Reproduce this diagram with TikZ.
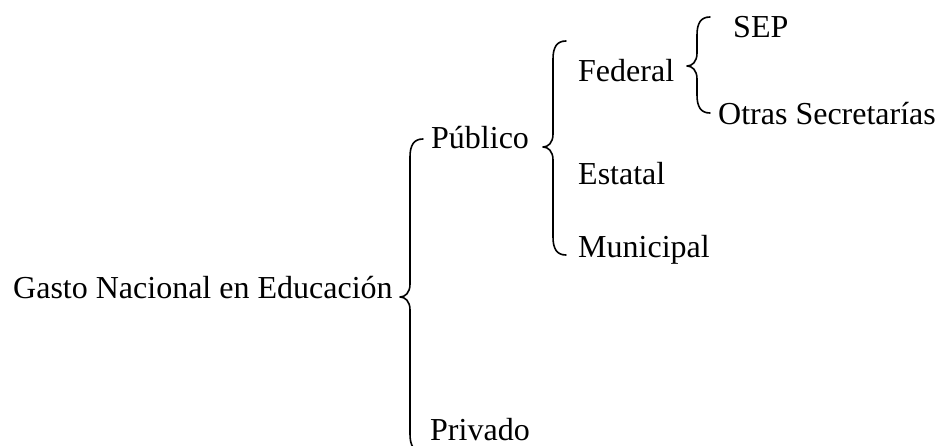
\documentclass[tikz,border=0pt]{standalone}
\usepackage{fontspec}
\setmainfont{Liberation Serif}
\newcommand\mybrace[4]{%
  \draw[bracestyle] ({#1+13},{#2}) .. controls ({#1+4},{#2}) and ({#1},{#2+6}) .. ({#1},{#2+18})
    -- ({#1},{#3-13}) .. controls ({#1},{#3-4}) and ({#1-5},{#3}) .. ({#1-10},{#3})
    .. controls ({#1-5},{#3}) and ({#1},{#3+4}) .. ({#1},{#3+13})
    -- ({#1},{#4-18}) .. controls ({#1},{#4-6}) and ({#1+4},{#4}) .. ({#1+13},{#4});}
\tikzset{
  lbl/.style={anchor=base west, inner sep=0pt, font=\fontsize{32}{38}\selectfont},
  bracestyle/.style={line width=1.6pt, line cap=round, line join=round}
}
\begin{document}
\begin{tikzpicture}[x=1pt,y=-1pt]
\useasboundingbox (0,0) rectangle (945,446);
\clip (0,0) rectangle (945,446);
\node[lbl] (gasto) at (13,299) {Gasto Nacional en Educación};
\node[lbl] (publico) at (431,149) {Público};
\node[lbl] (privado) at (430,440) {Privado};
\node[lbl] (federal) at (578,82) {Federal};
\node[lbl] (estatal) at (578,185) {Estatal};
\node[lbl] (municipal) at (578,258) {Municipal};
\node[lbl] (sep) at (733,38) {SEP};
\node[lbl] (otras) at (718,125) {Otras Secretarías};
\mybrace{410}{139}{297}{452}
\mybrace{553}{41}{147}{255}
\mybrace{697}{17}{66}{113}
\end{tikzpicture}
\end{document}
